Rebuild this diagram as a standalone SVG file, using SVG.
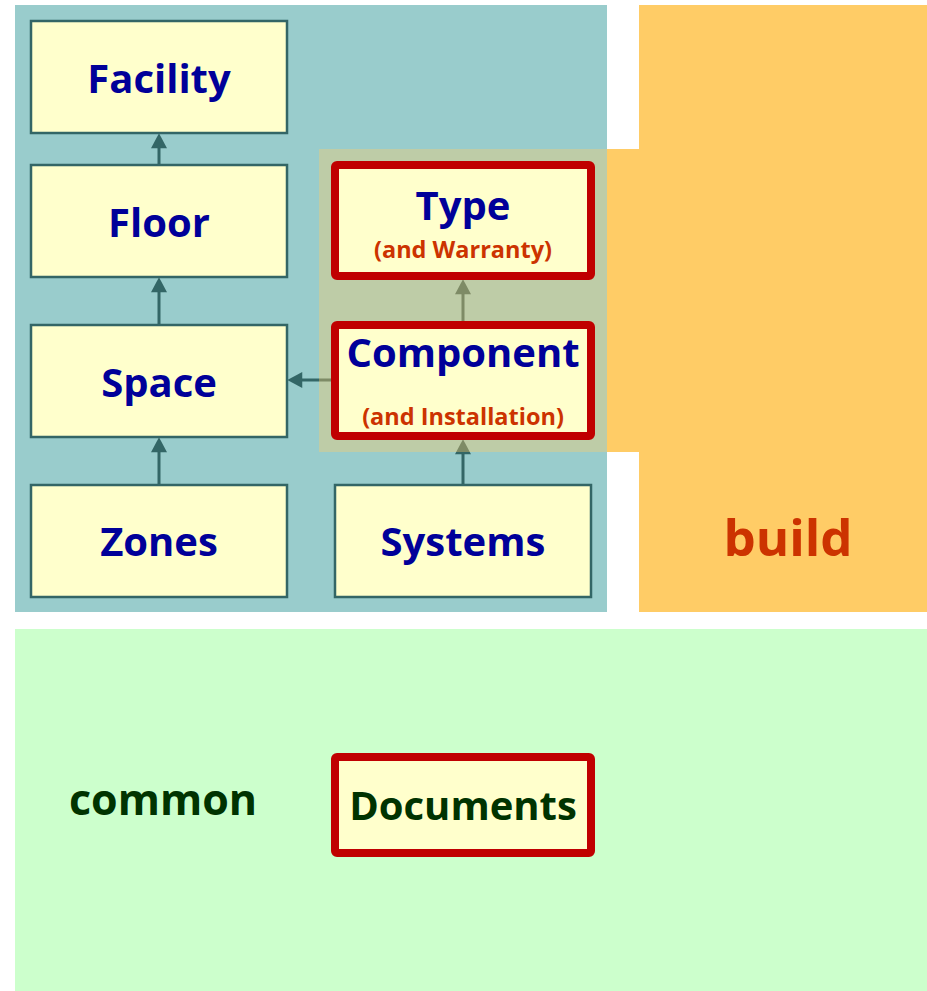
<svg xmlns="http://www.w3.org/2000/svg" width="927" height="991" viewBox="0 0 927 991">
<defs>
<style>
.bg-teal{fill:#99CCCC}
.bg-orange{fill:#FFCC66}
.bg-green{fill:#CCFFCC}
.node{fill:#FFFFCC;stroke:#336666;stroke-width:2.5}
.hot{fill:#FFFFCC;stroke:#C00000;stroke-width:8;stroke-linejoin:round}
.t{font-family:"Open Sans","Liberation Sans",sans-serif;font-weight:bold;text-anchor:middle;fill:#000099}
.big{font-size:40px}
.sub{font-size:23.5px;fill:#CC3300}
.green{fill:#003300}
.conn{stroke:#336666;stroke-width:3;fill:none;marker-end:url(#ah)}
</style>
<marker id="ah" markerUnits="userSpaceOnUse" markerWidth="16" markerHeight="16" viewBox="0 0 14 15" refX="4" refY="7.5" orient="auto">
<path d="M0,0 L14,7.5 L0,15 z" fill="#336666"/>
</marker>
</defs>
<g id="backgrounds">
<rect class="bg-teal" x="15" y="5" width="592" height="607"/>
<rect class="bg-orange" x="639" y="5" width="288" height="607"/>
<rect class="bg-orange" x="607" y="149" width="32" height="303"/>
<rect class="bg-green" x="15" y="629" width="912" height="362"/>
</g>
<g id="connectors">
<line class="conn" x1="159" y1="165" x2="159" y2="144"/>
<line class="conn" x1="159" y1="325" x2="159" y2="288"/>
<line class="conn" x1="159" y1="485" x2="159" y2="448"/>
<line class="conn" x1="331" y1="380" x2="298" y2="380"/>
<line class="conn" x1="463" y1="321" x2="463" y2="290"/>
<line class="conn" x1="463" y1="485" x2="463" y2="450"/>
</g>
<rect id="build-overlay" x="319" y="149" width="288" height="303" fill="#FFCC66" fill-opacity="0.37"/>
<g id="facility">
<rect class="node" x="31" y="21" width="256" height="112"/>
<text class="t big" x="159" y="93">Facility</text>
</g>
<g id="floor">
<rect class="node" x="31" y="165" width="256" height="112"/>
<text class="t big" x="159" y="237">Floor</text>
</g>
<g id="space">
<rect class="node" x="31" y="325" width="256" height="112"/>
<text class="t big" x="159" y="397">Space</text>
</g>
<g id="zones">
<rect class="node" x="31" y="485" width="256" height="112"/>
<text class="t big" x="159" y="556">Zones</text>
</g>
<g id="systems">
<rect class="node" x="335" y="485" width="256" height="112"/>
<text class="t big" x="463" y="556">Systems</text>
</g>
<g id="type">
<rect class="hot" x="335" y="165" width="256" height="111" rx="2"/>
<text class="t big" x="463" y="220">Type</text>
<text class="t sub" x="463" y="258">(and Warranty)</text>
</g>
<g id="component">
<rect class="hot" x="335" y="325" width="256" height="111" rx="2"/>
<text class="t big" x="463" y="367">Component</text>
<text class="t sub" x="463" y="425">(and Installation)</text>
</g>
<g id="documents">
<rect class="hot" x="335" y="757" width="256" height="96" rx="2"/>
<text class="t big green" x="463" y="820">Documents</text>
</g>
<text class="t green" x="163" y="815" font-size="43">common</text>
<text class="t" x="788" y="556" font-size="51" style="fill:#CC3300">build</text>
</svg>
